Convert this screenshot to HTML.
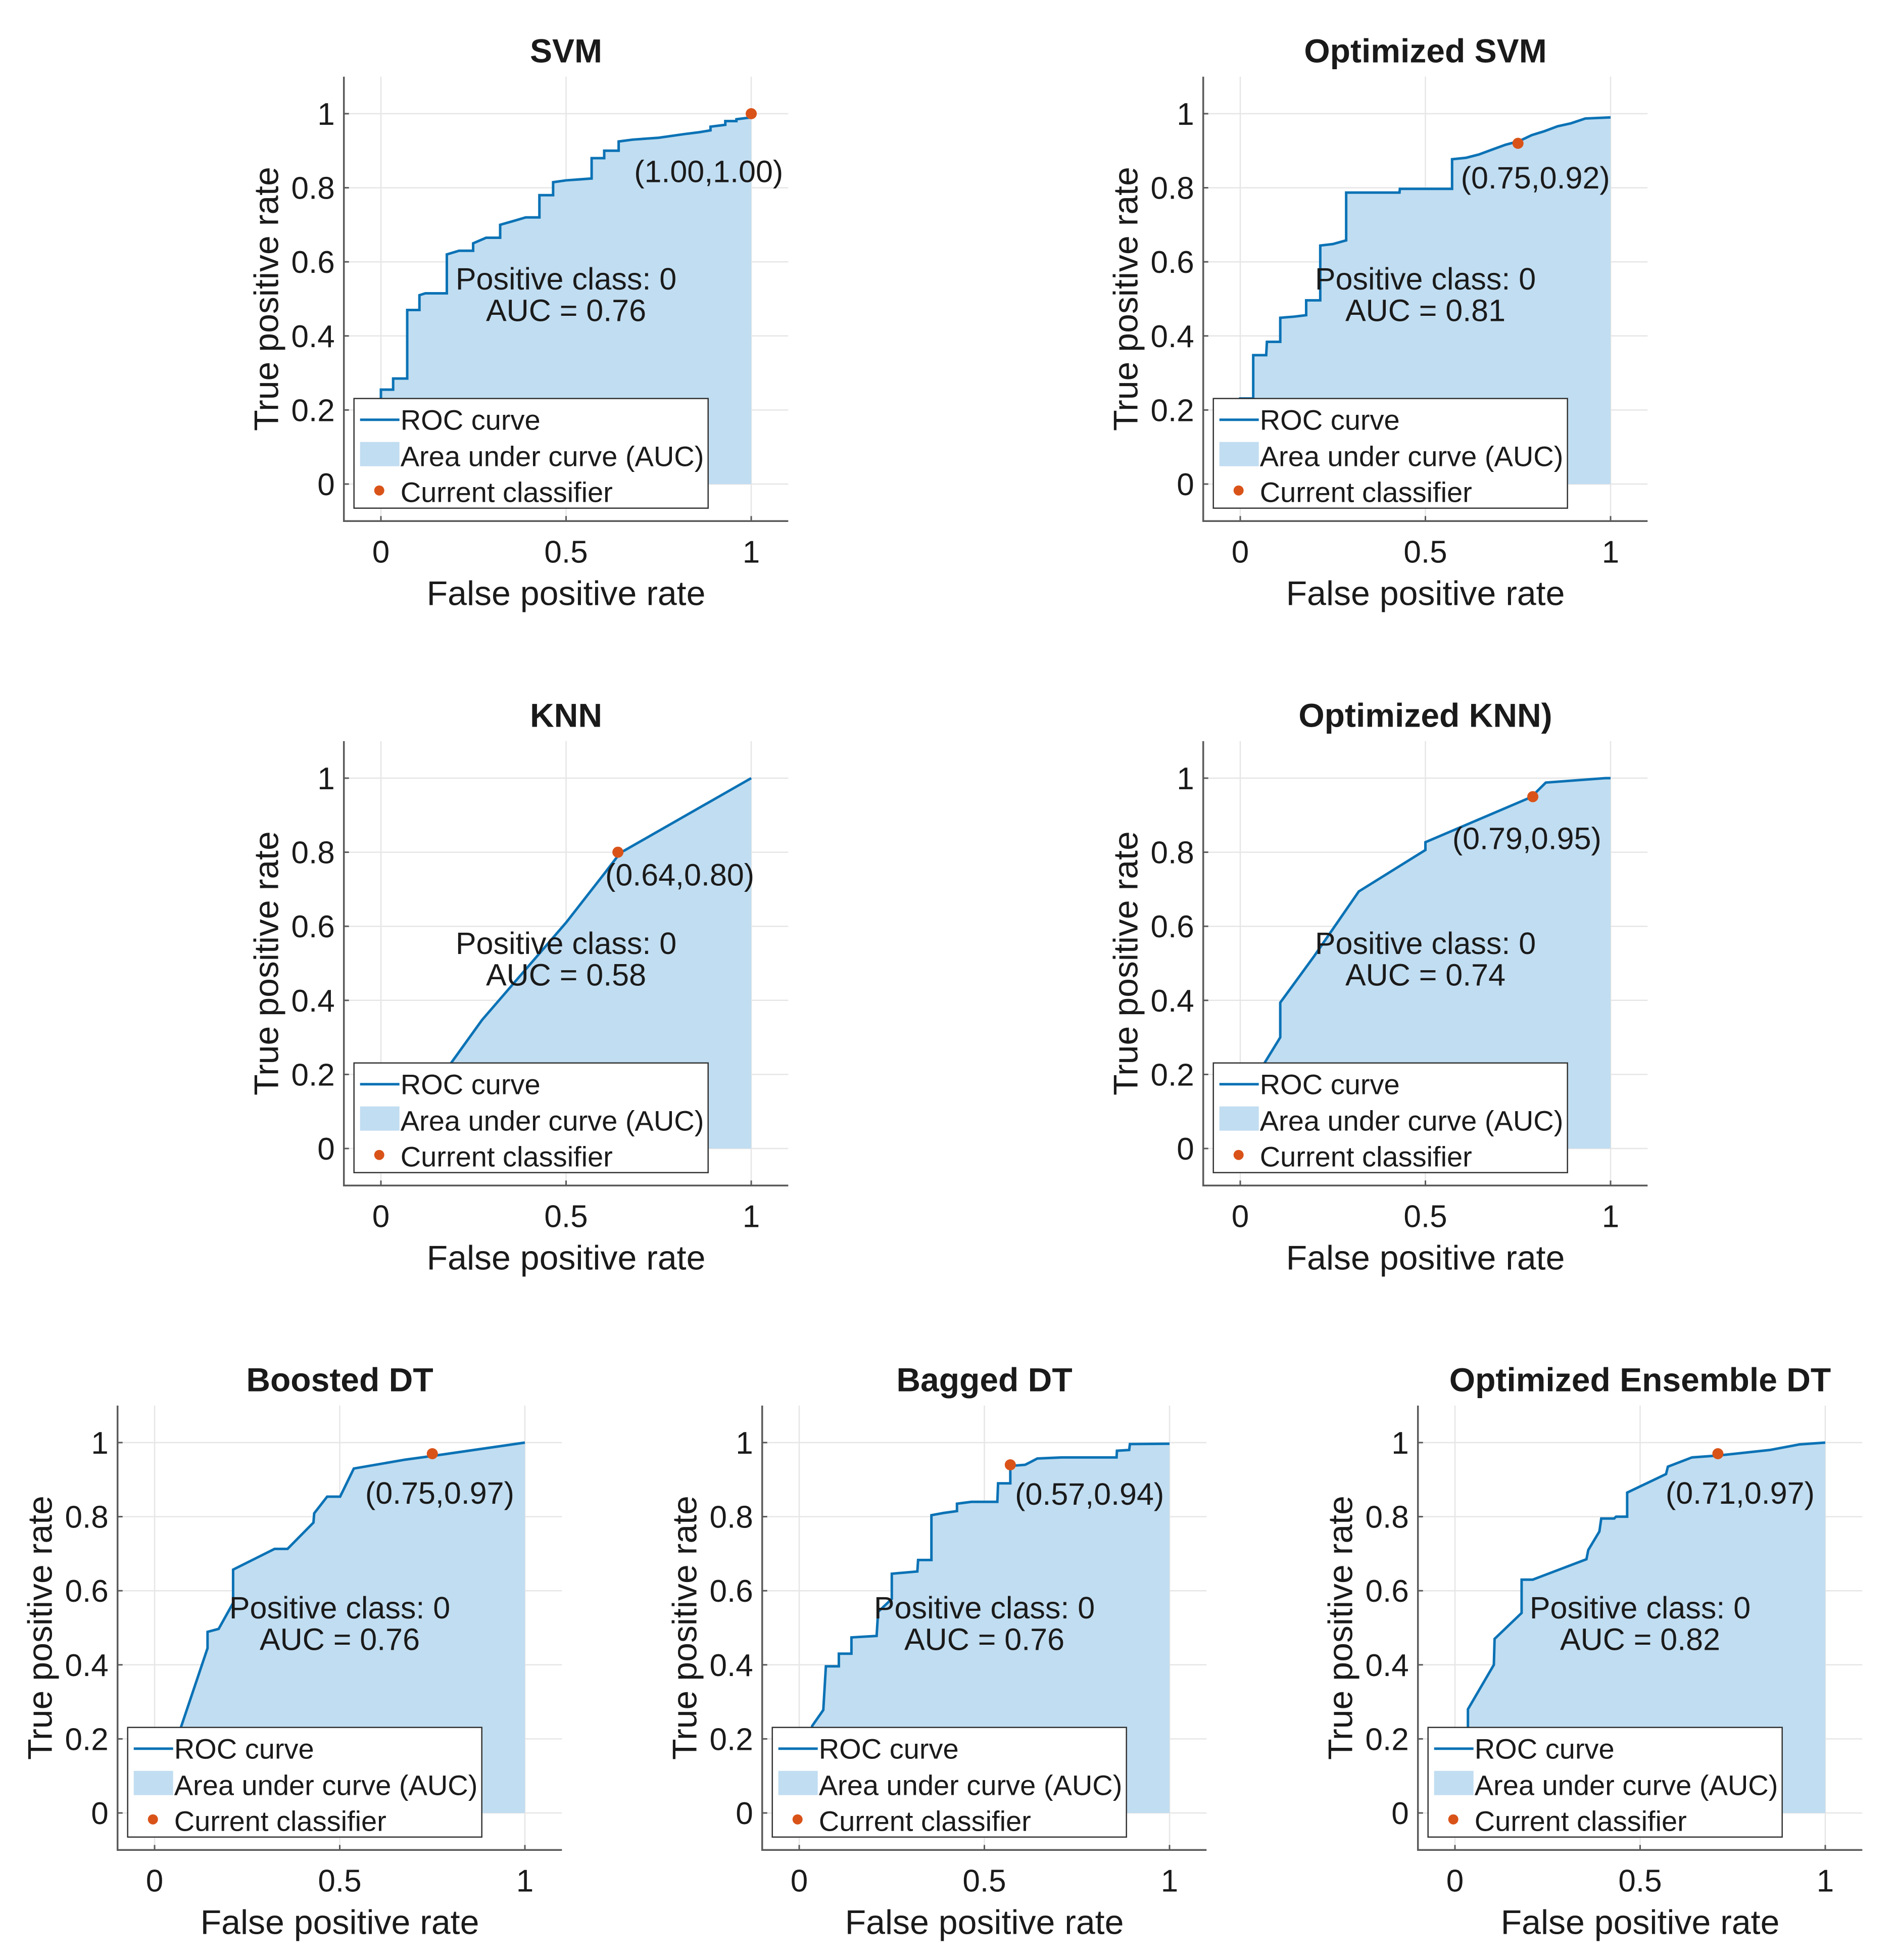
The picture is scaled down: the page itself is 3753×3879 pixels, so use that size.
<!DOCTYPE html>
<html><head><meta charset="utf-8">
<style>
html,body{margin:0;padding:0;background:#fff;}
svg{display:block;}
text{font-family:"Liberation Sans",Arial,sans-serif;fill:#1a1a1a;}
</style></head>
<body>
<svg id="fig" xmlns="http://www.w3.org/2000/svg" width="3753" height="3879" viewBox="0 0 3753 3879"></svg>
<script>
// ---- data ----
const svmFpr = [0,0,0.033,0.033,0.071,0.071,0.104,0.104,0.12,0.178,0.178,0.211,0.249,0.249,0.284,0.322,0.322,0.357,0.391,0.428,0.428,0.465,0.465,0.50,0.569,0.569,0.603,0.603,0.642,0.642,0.68,0.75,0.82,0.86,0.89,0.89,0.93,0.93,0.96,0.96,1];
const svmTpr = [0,0.255,0.255,0.285,0.285,0.47,0.47,0.51,0.515,0.515,0.62,0.63,0.63,0.65,0.665,0.665,0.70,0.71,0.72,0.72,0.78,0.78,0.815,0.82,0.825,0.88,0.88,0.90,0.90,0.925,0.93,0.935,0.945,0.95,0.955,0.965,0.97,0.98,0.98,0.985,0.99];
const osvmFpr = [0,0,0.035,0.035,0.07,0.072,0.108,0.108,0.145,0.178,0.178,0.216,0.216,0.25,0.286,0.286,0.43,0.431,0.572,0.572,0.61,0.645,0.68,0.716,0.753,0.787,0.822,0.857,0.893,0.932,1];
const osvmTpr = [0,0.231,0.231,0.348,0.348,0.384,0.384,0.449,0.452,0.456,0.496,0.496,0.644,0.648,0.658,0.787,0.787,0.797,0.797,0.877,0.881,0.89,0.903,0.916,0.926,0.942,0.953,0.966,0.974,0.987,0.99];
const knnFpr = [0.02,0.186,0.273,0.5,0.607,0.646,1];
const knnTpr = [0,0.226,0.347,0.61,0.747,0.798,1];
const oknnFpr = [0,0.065,0.108,0.108,0.2,0.32,0.5,0.5,0.786,0.825,0.986,1];
const oknnTpr = [0,0.23,0.30,0.394,0.52,0.694,0.806,0.827,0.949,0.988,1,1];
const bstFpr = [0,0.07,0.143,0.143,0.173,0.212,0.212,0.324,0.359,0.429,0.431,0.466,0.501,0.538,0.677,0.751,1];
const bstTpr = [0,0.228,0.445,0.489,0.497,0.567,0.657,0.713,0.713,0.784,0.809,0.854,0.854,0.93,0.954,0.964,1];
const bagFpr = [0,0.035,0.065,0.072,0.107,0.107,0.141,0.141,0.209,0.213,0.25,0.25,0.319,0.321,0.357,0.357,0.39,0.426,0.426,0.465,0.535,0.537,0.57,0.57,0.61,0.643,0.709,0.857,0.858,0.891,0.893,1];
const bagTpr = [0,0.235,0.278,0.396,0.396,0.43,0.43,0.474,0.478,0.543,0.578,0.646,0.652,0.683,0.683,0.804,0.81,0.815,0.835,0.84,0.84,0.89,0.89,0.937,0.94,0.957,0.96,0.96,0.978,0.98,0.996,0.997];
const ensFpr = [0,0.035,0.035,0.105,0.107,0.18,0.18,0.21,0.355,0.36,0.39,0.395,0.43,0.435,0.465,0.465,0.57,0.575,0.64,0.71,0.85,0.93,1];
const ensTpr = [0,0.22,0.28,0.40,0.47,0.54,0.63,0.63,0.685,0.71,0.76,0.795,0.795,0.80,0.80,0.865,0.915,0.935,0.96,0.965,0.98,0.995,1];
const titles = ["SVM","Optimized SVM","KNN","Optimized KNN)","Boosted DT","Bagged DT","Optimized Ensemble DT"];
const aucs = ["0.76","0.81","0.58","0.74","0.76","0.76","0.82"];
const opX = [1.00,0.75,0.64,0.79,0.75,0.57,0.71];
const opY = [1.00,0.92,0.80,0.95,0.97,0.94,0.97];
const opLabels = ["(1.00,1.00)","(0.75,0.92)","(0.64,0.80)","(0.79,0.95)","(0.75,0.97)","(0.57,0.94)","(0.71,0.97)"];
const xTicks = [0,0.5,1];
const xTickLabels = ["0","0.5","1"];
const yTicks = [0,0.2,0.4,0.6,0.8,1];
const yTickLabels = ["0","0.2","0.4","0.6","0.8","1"];

// ---- layout (not data) ----
const fprs=[svmFpr,osvmFpr,knnFpr,oknnFpr,bstFpr,bagFpr,ensFpr];
const tprs=[svmTpr,osvmTpr,knnTpr,oknnTpr,bstTpr,bagTpr,ensTpr];
const origins=[[754,958],[2455,958],[754,2273],[2455,2273],[306,3588],[1582,3588],[2880,3588]];
const labelPos=[[0.885,0.845],[0.797,0.828],[0.807,0.74],[0.774,0.838],[0.77,0.865],[0.784,0.862],[0.77,0.865]];
const names=["svm","optimized-svm","knn","optimized-knn","boosted-dt","bagged-dt","optimized-ensemble-dt"];
const U=733, NS="http://www.w3.org/2000/svg";
const fig=document.getElementById('fig');
function mk(tag,attrs,parent,txt){const e=document.createElementNS(NS,tag);for(const k in attrs)e.setAttribute(k,attrs[k]);if(txt!==undefined)e.textContent=txt;parent.appendChild(e);return e;}

for(let p=0;p<7;p++){
  const [ox,oy]=origins[p];
  const sx=v=>ox+v*U, sy=v=>oy-v*U;
  const g=mk('g',{},fig);
  
  
  const L=sx(-0.1),R=sx(1.1),T=sy(1.1),B=sy(-0.1);
  for(const t of xTicks){const l=mk('line',{x1:sx(t),x2:sx(t),y1:T,y2:B,stroke:'#e6e6e6','stroke-width':2.5},g);
    }
  for(const t of yTicks){const l=mk('line',{x1:L,x2:R,y1:sy(t),y2:sy(t),stroke:'#e6e6e6','stroke-width':2.5},g);
    }
  const fx=fprs[p], fy=tprs[p];
  let pts=fx.map((x,i)=>sx(x)+','+sy(fy[i])).join(' ');
  const area=mk('polygon',{points:pts+' '+sx(fx[fx.length-1])+','+sy(0)+' '+sx(fx[0])+','+sy(0),fill:'#c1ddf1'},g);
  
  
  const line=mk('polyline',{points:pts,fill:'none',stroke:'#0b72b5','stroke-width':5,'stroke-linejoin':'miter'},g);
  
  
  const dot=mk('circle',{cx:sx(opX[p]),cy:sy(opY[p]),r:11,fill:'#d95319'},g);
  
  
  const ax=mk('path',{d:`M${L},${T} L${L},${B} L${R},${B}`,fill:'none',stroke:'#5a5a5a','stroke-width':3.5},g);
  
  
  for(let i=0;i<xTicks.length;i++){
    mk('line',{x1:sx(xTicks[i]),x2:sx(xTicks[i]),y1:B,y2:B-10,stroke:'#5a5a5a','stroke-width':3},g);
    const t=mk('text',{x:sx(xTicks[i]),y:B+82,'text-anchor':'middle','font-size':62,fill:'#262626'},g,xTickLabels[i]);
    
  }
  for(let i=0;i<yTicks.length;i++){
    mk('line',{x1:L,x2:L+10,y1:sy(yTicks[i]),y2:sy(yTicks[i]),stroke:'#5a5a5a','stroke-width':3},g);
    const t=mk('text',{x:L-18,y:sy(yTicks[i])+22,'text-anchor':'end','font-size':62,fill:'#262626'},g,yTickLabels[i]);
    
  }
  const xl=mk('text',{x:sx(0.5),y:B+166,'text-anchor':'middle','font-size':68,fill:'#262626'},g,'False positive rate');
  
  const cy=(T+B)/2, lx=L-130;
  const yl=mk('text',{x:lx,y:cy,'text-anchor':'middle','font-size':68,fill:'#262626',transform:`rotate(-90 ${lx} ${cy})`},g,'True positive rate');
  
  const ti=mk('text',{x:sx(0.5),y:T-28,'text-anchor':'middle','font-size':66,'font-weight':'bold',fill:'#111'},g,titles[p]);
  
  const a1=mk('text',{x:sx(0.5),y:sy(0.555)+22,'text-anchor':'middle','font-size':61},g,'Positive class: 0');
  
  const a2=mk('text',{x:sx(0.5),y:sy(0.47)+22,'text-anchor':'middle','font-size':61},g,'AUC = '+aucs[p]);
  
  const a3=mk('text',{x:sx(labelPos[p][0]),y:sy(labelPos[p][1])+22,'text-anchor':'middle','font-size':61},g,opLabels[p]);
  
  const lg=mk('g',{},g);
  
  
  const lL=L+20, lT=T+637, lW=701, lH=217;
  mk('rect',{x:lL,y:lT,width:lW,height:lH,fill:'#fff',stroke:'#333','stroke-width':2.5},lg);
  mk('line',{x1:lL+12,x2:lL+90,y1:lT+42,y2:lT+42,stroke:'#0b72b5','stroke-width':5},lg);
  mk('rect',{x:lL+12,y:lT+86,width:78,height:48,fill:'#c1ddf1'},lg);
  mk('circle',{cx:lL+50,cy:lT+182,r:10,fill:'#d95319'},lg);
  const e1=mk('text',{x:lL+92,y:lT+62,'font-size':56},lg,'ROC curve');
  
  const e2=mk('text',{x:lL+92,y:lT+134,'font-size':56},lg,'Area under curve (AUC)');
  
  const e3=mk('text',{x:lL+92,y:lT+205,'font-size':56},lg,'Current classifier');
  
}
</script>
</body></html>
